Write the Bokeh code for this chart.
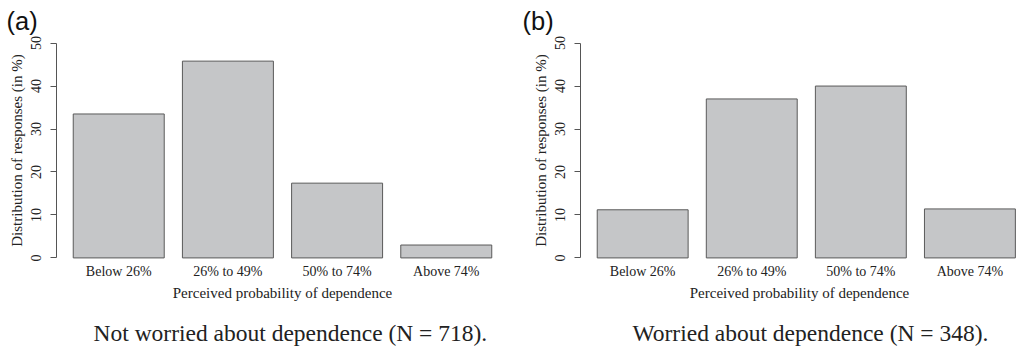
from bokeh.plotting import figure
from bokeh.layouts import row
from bokeh.models import Range1d, Title, ColumnDataSource
from bokeh.embed import file_html
from bokeh.resources import INLINE

categories = ["Below 26%", "26% to 49%", "50% to 74%", "Above 74%"]
not_worried = [33.5, 45.8, 17.4, 3.0]
worried = [11.2, 37.0, 40.0, 11.4]
y_ticks = [0, 10, 20, 30, 40, 50]
panel_tags = ["(a)", "(b)"]
captions = ["Not worried about dependence (N = 718).",
            "Worried about dependence (N = 348)."]
x_title = "Perceived probability of dependence"
y_title = "Distribution of responses (in %)"

SERIF = "Liberation Serif"
TXT = "#222222"
bar_x = [0.7 + 1.2 * i for i in range(len(categories))]


def panel(values, tag, caption, x_end, border_left, frame_w, border_right,
          tag_off, cap_off):
    p = figure(frame_width=frame_w, frame_height=232,
               min_border_left=border_left, min_border_right=border_right,
               min_border_top=34, min_border_bottom=20,
               x_range=Range1d(0.016, x_end), y_range=Range1d(-2, 52),
               output_backend="svg", toolbar_location=None)
    p.outline_line_color = None
    p.grid.visible = False
    src = ColumnDataSource(dict(x=bar_x, top=values))
    p.vbar(x="x", top="top", bottom=0, width=1.0, source=src,
           fill_color="#c5c6c8", line_color="#5a5a5a", line_width=1)
    # y axis
    ya = p.yaxis[0]
    ya.bounds = (0, 50)
    ya.ticker = y_ticks
    ya.axis_line_color = "#555555"
    ya.major_tick_line_color = "#555555"
    ya.major_tick_out = 6
    ya.major_tick_in = 0
    ya.minor_tick_line_color = None
    ya.major_label_orientation = "vertical"
    ya.major_label_text_font = SERIF
    ya.major_label_text_font_size = "14px"
    ya.major_label_text_color = TXT
    ya.major_label_standoff = 9
    ya.axis_label = y_title
    ya.axis_label_text_font = SERIF
    ya.axis_label_text_font_size = "15px"
    ya.axis_label_text_font_style = "normal"
    ya.axis_label_text_color = TXT
    ya.axis_label_standoff = 4
    # x axis
    xa = p.xaxis[0]
    xa.ticker = bar_x
    xa.major_label_overrides = {bx: c for bx, c in zip(bar_x, categories)}
    xa.axis_line_color = None
    xa.major_tick_line_color = None
    xa.minor_tick_line_color = None
    xa.major_tick_out = 0
    xa.major_tick_in = 0
    xa.major_label_standoff = -3
    xa.major_label_text_font = SERIF
    xa.major_label_text_font_size = "14px"
    xa.major_label_text_color = TXT
    xa.axis_label = x_title
    xa.axis_label_text_font = SERIF
    xa.axis_label_text_font_size = "15px"
    xa.axis_label_text_font_style = "normal"
    xa.axis_label_text_color = TXT
    xa.axis_label_standoff = 3
    p.add_layout(Title(text=caption, align="left", offset=cap_off,
                       text_font=SERIF, text_font_size="23.5px",
                       text_font_style="normal", text_color=TXT,
                       standoff=29), "below")
    p.add_layout(Title(text=tag, align="left", offset=tag_off,
                       text_font="Liberation Sans", text_font_size="25.5px",
                       text_font_style="normal", text_color="#111111",
                       standoff=0), "above")
    return p


pa = panel(not_worried, panel_tags[0], captions[0], 4.984, 56, 452, 12,
           -50, 37)
pb = panel(worried, panel_tags[1], captions[1], 0.016 + 438 / 90.9, 60, 438, 1,
           -58, 52)
layout = row(pa, pb, spacing=0)
open("out.html", "w").write(file_html(layout, INLINE))
